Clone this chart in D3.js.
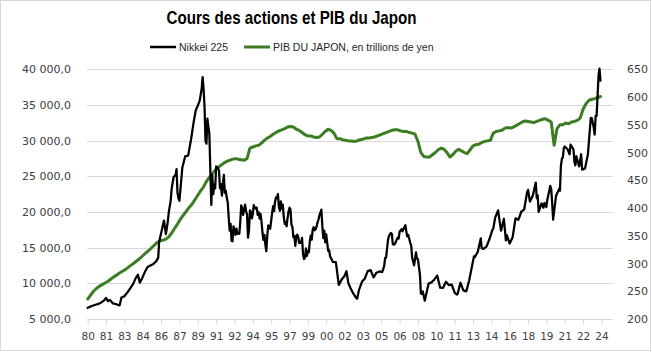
<!DOCTYPE html>
<html>
<head>
<meta charset="utf-8">
<script src="https://cdn.jsdelivr.net/npm/d3@7"></script>
<style>
  html, body { margin: 0; padding: 0; background: #fff; }
  svg { display: block; }
</style>
</head>
<body>
<svg id="chart"></svg>
<script>
'use strict';

// Nikkei 225, fin de mois (lecture du graphique)
var nikkei = [
  ["1980-01",6560],["1980-03",6700],["1980-06",6850],["1980-09",7000],["1980-12",7116],
  ["1981-03",7300],["1981-06",7600],["1981-08",7950],["1981-10",7500],["1981-12",7681],
  ["1982-03",7200],["1982-06",7100],["1982-08",7000],["1982-10",6900],["1982-12",8016],
  ["1983-03",8200],["1983-06",8700],["1983-09",9300],["1983-12",9893],
  ["1984-03",10800],["1984-05",11200],["1984-07",10100],["1984-09",10600],["1984-12",11542],
  ["1985-03",12300],["1985-06",12500],["1985-09",12700],["1985-12",13113],
  ["1986-02",13600],["1986-03",15800],["1986-06",17600],["1986-08",18800],["1986-10",16900],["1986-12",18701],
  ["1987-01",20000],["1987-03",21600],["1987-04",23300],["1987-06",24900],["1987-08",25200],["1987-09",26000],
  ["1987-10",22700],["1987-11",21900],["1987-12",21564],
  ["1988-03",26200],["1988-06",27800],["1988-09",27900],["1988-12",30159],
  ["1989-03",32800],["1989-05",34300],["1989-07",34900],["1989-09",35600],["1989-11",37300],["1989-12",38916],
  ["1990-01",37200],["1990-02",34600],["1990-03",29980],["1990-04",29585],["1990-05",33100],["1990-06",31940],
  ["1990-07",31000],["1990-08",25900],["1990-09",20984],["1990-10",25200],["1990-11",22500],["1990-12",23849],
  ["1991-01",23293],["1991-02",26409],["1991-03",26300],["1991-04",26111],["1991-05",25790],["1991-06",23300],
  ["1991-07",23900],["1991-08",22300],["1991-09",23916],["1991-10",25200],["1991-11",22687],["1991-12",22984],
  ["1992-01",22023],["1992-02",21339],["1992-03",19300],["1992-04",17390],["1992-05",18347],["1992-06",15950],
  ["1992-07",15900],["1992-08",18000],["1992-09",17399],["1992-10",16800],["1992-11",17683],["1992-12",16925],
  ["1993-01",17023],["1993-02",16953],["1993-03",18600],["1993-04",20919],["1993-05",20500],["1993-06",19590],
  ["1993-07",20400],["1993-08",21027],["1993-09",20100],["1993-10",19703],["1993-11",16400],["1993-12",17417],
  ["1994-01",20229],["1994-02",19997],["1994-03",19100],["1994-04",19725],["1994-05",20973],["1994-06",20600],
  ["1994-07",20462],["1994-08",20629],["1994-09",19600],["1994-10",19990],["1994-11",19076],["1994-12",19723],
  ["1995-01",18649],["1995-02",17053],["1995-03",16100],["1995-04",16807],["1995-05",15437],["1995-06",14500],
  ["1995-07",16678],["1995-08",18117],["1995-09",17900],["1995-10",17655],["1995-11",18744],["1995-12",19868],
  ["1996-01",20813],["1996-02",20125],["1996-03",21400],["1996-04",22041],["1996-05",21956],["1996-06",22500],
  ["1996-07",20692],["1996-08",20167],["1996-09",21500],["1996-10",20466],["1996-11",21020],["1996-12",19361],
  ["1997-01",18330],["1997-02",18557],["1997-03",18000],["1997-04",19151],["1997-05",20069],["1997-06",20600],
  ["1997-07",20331],["1997-08",18229],["1997-09",17900],["1997-10",16459],["1997-11",16636],["1997-12",15259],
  ["1998-01",16628],["1998-02",16832],["1998-03",16500],["1998-04",15641],["1998-05",15671],["1998-06",15800],
  ["1998-07",16378],["1998-08",14108],["1998-09",13400],["1998-10",13565],["1998-11",14883],["1998-12",13842],
  ["1999-01",14500],["1999-02",14368],["1999-03",15800],["1999-04",16702],["1999-05",16112],["1999-06",17500],
  ["1999-07",17862],["1999-08",17437],["1999-09",17600],["1999-10",17943],["1999-11",18558],["1999-12",18934],
  ["2000-01",19540],["2000-02",19960],["2000-03",20337],["2000-04",17974],["2000-05",16332],["2000-06",17400],
  ["2000-07",15727],["2000-08",16861],["2000-09",15700],["2000-10",14540],["2000-11",14649],["2000-12",13786],
  ["2001-03",12999],["2001-06",12969],["2001-09",9775],["2001-12",10543],
  ["2002-03",11025],["2002-05",11700],["2002-07",10000],["2002-09",9383],["2002-12",8579],
  ["2003-03",7973],["2003-04",7831],["2003-06",9083],["2003-09",10219],["2003-12",10677],
  ["2004-03",11715],["2004-06",11858],["2004-09",10824],["2004-12",11489],
  ["2005-03",11668],["2005-06",11584],["2005-08",12413],["2005-09",13574],["2005-10",13607],["2005-11",14872],["2005-12",16111],
  ["2006-01",16649],["2006-03",17060],["2006-04",16906],["2006-05",15467],["2006-06",15505],["2006-07",15457],
  ["2006-09",16128],["2006-10",16399],["2006-11",16274],["2006-12",17226],
  ["2007-02",17604],["2007-03",17288],["2007-06",18138],["2007-07",17248],["2007-08",16569],["2007-09",16786],
  ["2007-11",15681],["2007-12",15308],
  ["2008-01",13592],["2008-03",12526],["2008-05",14338],["2008-06",13481],["2008-07",13376],["2008-09",11260],
  ["2008-10",8577],["2008-11",8512],["2008-12",8860],
  ["2009-02",7568],["2009-03",8110],["2009-06",9958],["2009-09",10133],["2009-12",10546],
  ["2010-03",11090],["2010-06",9383],["2010-09",9369],["2010-12",10229],
  ["2011-03",9755],["2011-06",9816],["2011-09",8700],["2011-11",8434],["2011-12",8455],
  ["2012-03",10084],["2012-06",9007],["2012-09",8870],["2012-12",10395],
  ["2013-03",12398],["2013-05",13774],["2013-06",13677],["2013-09",14456],["2013-12",16291],
  ["2014-01",14914],["2014-03",14828],["2014-06",15162],["2014-09",16174],["2014-12",17450],
  ["2015-01",17674],["2015-03",19207],["2015-06",20236],["2015-09",17388],["2015-12",19034],
  ["2016-01",17518],["2016-02",16027],["2016-03",16759],["2016-06",15576],["2016-09",16450],["2016-12",19114],
  ["2017-03",18909],["2017-06",20033],["2017-09",20356],["2017-12",22765],
  ["2018-01",23098],["2018-03",21454],["2018-06",22305],["2018-09",24120],["2018-10",21920],["2018-11",22351],["2018-12",20015],
  ["2019-03",21206],["2019-05",20601],["2019-06",21276],["2019-08",20704],["2019-09",21756],["2019-12",23657],
  ["2020-01",23205],["2020-02",21143],["2020-03",18917],["2020-06",22288],["2020-09",23185],["2020-10",22977],
  ["2020-11",26433],["2020-12",27444],
  ["2021-01",27663],["2021-02",28966],["2021-03",29179],["2021-06",28792],["2021-08",28090],["2021-09",29453],["2021-12",28792],
  ["2022-01",27002],["2022-02",26527],["2022-03",27821],["2022-06",26393],["2022-08",28092],["2022-09",25937],["2022-12",26095],
  ["2023-03",28041],["2023-06",33189],["2023-07",33172],["2023-09",31858],["2023-10",30859],["2023-11",33486],["2023-12",33464],
  ["2024-01",36287],["2024-02",39166],["2024-03",40100],["2024-04",38405]
];

// PIB nominal trimestriel, en trillions de yen (T1..T4 par annee)
var gdpByYear = [
  [1980,[236,243,250,255]],[1981,[259,262,265,268]],[1982,[272,276,279,283]],
  [1983,[286,289,293,297]],[1984,[301,305,309,314]],[1985,[319,323,328,333]],
  [1986,[338,341,342,344]],[1987,[348,355,363,371]],[1988,[380,387,394,401]],
  [1989,[407,415,423,431]],[1990,[438,448,455,462]],[1991,[468,473,477,481]],
  [1992,[484,486,488,489]],[1993,[488,487,486,489]],[1994,[508,510,512,513]],
  [1995,[517,522,526,529]],[1996,[533,536,539,541]],[1997,[543,546,547,546]],
  [1998,[542,540,536,532]],[1999,[530,530,528,527]],[2000,[528,533,538,542]],
  [2001,[540,535,525,525]],[2002,[523,522,521,521]],[2003,[520,521,523,524]],
  [2004,[526,526,527,528]],[2005,[530,532,534,536]],[2006,[538,540,541,541]],
  [2007,[539,538,538,536]],[2008,[535,533,520,500]],[2009,[493,492,492,496]],
  [2010,[500,505,508,506]],[2011,[500,492,496,502]],[2012,[506,503,500,498]],
  [2013,[505,512,514,515]],[2014,[518,520,521,522]],[2015,[535,538,539,540]],
  [2016,[544,545,544,546]],[2017,[549,552,555,557]],[2018,[556,555,554,556]],
  [2019,[558,560,561,558]],[2020,[555,513,543,550]],[2021,[550,553,552,555]],
  [2022,[556,558,562,578]],[2023,[588,594,596,597]],[2024,[599,601]]
];

var xTickLabels = ["80","81","83","84","86","87","89","91","92","94","95","97","99","00",
  "02","03","05","06","08","10","11","13","14","16","18","19","21","22","24"];
var xTickStepMonths = 19;
var leftTicks = [5000,10000,15000,20000,25000,30000,35000,40000];
var rightTicks = [200,250,300,350,400,450,500,550,600,650];

var width = 652, height = 353;
var plot = {left: 87.7, right: 613, top: 69.3, bottom: 319};

var svg = d3.select("#chart")
    .attr("width", width)
    .attr("height", height);

// fond + cadre
svg.append("rect")
    .attr("x", 0.5).attr("y", 0.5)
    .attr("width", width - 2).attr("height", height - 3)
    .attr("fill", "#fff")
    .attr("stroke", "#d9d9d9");

var parseMonth = d3.utcParse("%Y-%m");

var x = d3.scaleUtc()
    .domain([Date.UTC(1980, 0, 1), Date.UTC(2025, 4, 1)])
    .range([plot.left, plot.right]);
var yLeft = d3.scaleLinear().domain([5000, 40000]).range([plot.bottom, plot.top]);
var yRight = d3.scaleLinear().domain([200, 650]).range([plot.bottom, plot.top]);

var fr = d3.formatLocale({decimal: ",", thousands: " ", grouping: [3], currency: ["", " €"]});
var fmtLeft = fr.format(",.1f");

// grille horizontale
svg.append("g")
    .selectAll("line")
    .data(leftTicks.slice(1))
    .join("line")
    .attr("x1", plot.left - 0.7).attr("x2", plot.right)
    .attr("y1", function(d) { return Math.round(yLeft(d)) + 0.5; })
    .attr("y2", function(d) { return Math.round(yLeft(d)) + 0.5; })
    .attr("stroke", "#d9d9d9")
    .attr("stroke-width", 1);

// axe gauche
var axisL = svg.append("g")
    .attr("transform", "translate(" + 71 + ",0)")
    .call(d3.axisLeft(yLeft).tickValues(leftTicks).tickFormat(fmtLeft).tickSize(0).tickPadding(0));
axisL.select(".domain").remove();
axisL.selectAll("text")
    .attr("font-family", "DejaVu Sans")
    .attr("font-size", "11px")
    .attr("fill", "#404040");

// axe droit
var axisR = svg.append("g")
    .attr("transform", "translate(" + 627 + ",0)")
    .call(d3.axisRight(yRight).tickValues(rightTicks).tickSize(0).tickPadding(0));
axisR.select(".domain").remove();
axisR.selectAll("text")
    .attr("font-family", "DejaVu Sans")
    .attr("font-size", "11px")
    .attr("fill", "#404040");

// axe des dates
var tickDates = xTickLabels.map(function(d, i) { return new Date(Date.UTC(1980, i * xTickStepMonths, 1)); });
var axisB = svg.append("g")
    .attr("transform", "translate(0," + (Math.round(plot.bottom) + 0.5) + ")")
    .call(d3.axisBottom(x).tickValues(tickDates)
      .tickFormat(function(d, i) { return xTickLabels[i]; })
      .tickSizeInner(5).tickSizeOuter(0).tickPadding(8));
axisB.select(".domain")
    .attr("stroke", "#d9d9d9")
    .attr("d", "M" + (plot.left - 0.7) + ",0H" + plot.right);
axisB.selectAll(".tick line").attr("stroke", "#d9d9d9");
axisB.selectAll("text")
    .attr("font-family", "DejaVu Sans")
    .attr("font-size", "10.5px")
    .attr("fill", "#404040");

// series
var gdp = [];
gdpByYear.forEach(function(row) {
  row[1].forEach(function(v, q) { gdp.push({date: new Date(Date.UTC(row[0], q * 3, 1)), value: v}); });
});
var nk = nikkei.map(function(d) { return {date: parseMonth(d[0]), value: d[1]}; });

var gdpLine = d3.line()
    .x(function(d) { return x(d.date); })
    .y(function(d) { return yRight(d.value); });

var nkLine = d3.line()
    .x(function(d) { return x(d.date); })
    .y(function(d) { return yLeft(d.value); });

svg.append("path")
    .datum(gdp)
    .attr("d", gdpLine)
    .attr("fill", "none")
    .attr("stroke", "#3a7d22")
    .attr("stroke-width", 3)
    .attr("stroke-linejoin", "round")
    .attr("stroke-linecap", "round");

svg.append("path")
    .datum(nk)
    .attr("d", nkLine)
    .attr("fill", "none")
    .attr("stroke", "#000")
    .attr("stroke-width", 2.25)
    .attr("stroke-linejoin", "round")
    .attr("stroke-linecap", "round");

// titre
svg.append("text")
    .attr("x", 291.5)
    .attr("y", 24)
    .attr("text-anchor", "middle")
    .attr("font-family", "'Liberation Sans Narrow', 'Liberation Sans', Arial, sans-serif")
    .attr("font-weight", "bold")
    .attr("font-size", "19px")
    .attr("fill", "#000")
    .attr("textLength", 250)
    .attr("lengthAdjust", "spacingAndGlyphs")
    .text("Cours des actions et PIB du Japon");

// legende
var legend = [
  {label: "Nikkei 225", color: "#000", x0: 150, x1: 176, tx: 179, w: 2.5},
  {label: "PIB DU JAPON, en trillions de yen", color: "#3a7d22", x0: 244, x1: 270, tx: 273, w: 3}
];
var lg = svg.append("g");
lg.selectAll("line")
    .data(legend)
    .join("line")
    .attr("x1", function(d) { return d.x0; })
    .attr("x2", function(d) { return d.x1; })
    .attr("y1", 47).attr("y2", 47)
    .attr("stroke", function(d) { return d.color; })
    .attr("stroke-width", function(d) { return d.w; });
lg.selectAll("text")
    .data(legend)
    .join("text")
    .attr("x", function(d) { return d.tx; })
    .attr("y", 51)
    .attr("font-family", "'Liberation Sans', Arial, sans-serif")
    .attr("font-size", "10.5px")
    .attr("fill", "#262626")
    .text(function(d) { return d.label; });
</script>
</body>
</html>
